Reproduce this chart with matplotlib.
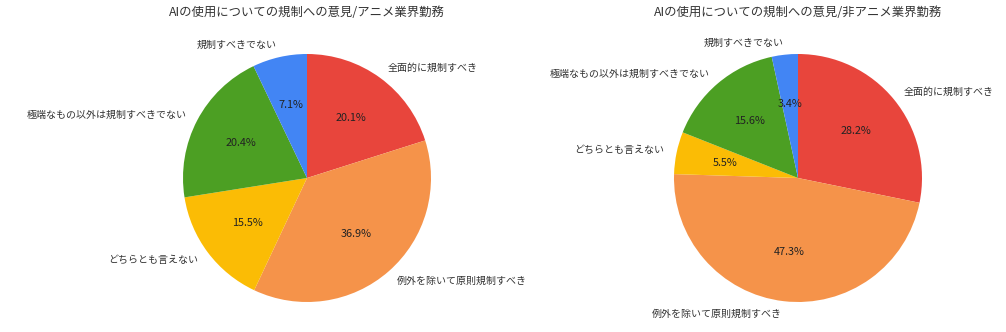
import matplotlib.pyplot as plt

plt.rcParams['font.family'] = ['Noto Sans CJK JP', 'DejaVu Sans']

labels_anime = ["全面的に規制すべき", "例外を除いて原則規制すべき", "どちらとも言えない",
                "極端なもの以外は規制すべきでない", "規制すべきでない"]
values_anime = [20.1, 36.9, 15.5, 20.4, 7.1]

labels_other = ["全面的に規制すべき", "例外を除いて原則規制すべき", "どちらとも言えない",
                "極端なもの以外は規制すべきでない", "規制すべきでない"]
values_other = [28.2, 47.3, 5.5, 15.6, 3.4]

titles = ["AIの使用についての規制への意見/アニメ業界勤務",
          "AIの使用についての規制への意見/非アニメ業界勤務"]
colors = ["#E8453C", "#F5934A", "#FBBC05", "#4C9F23", "#4285F4"]

W, H = 1006, 332
R = 124      # pie radius in px
half = 150   # axes half size in px

fig = plt.figure(figsize=(W / 100, H / 100), dpi=100)

for (cx, cy), labels, values, title in [((307, 178), labels_anime, values_anime, titles[0]),
                                         ((798, 178), labels_other, values_other, titles[1])]:
    ax = fig.add_axes([(cx - half) / W, (H - cy - half) / H, 2 * half / W, 2 * half / H])
    wedges, texts, autotexts = ax.pie(values, labels=labels, colors=colors, startangle=90,
                                      counterclock=False, autopct="%.1f%%", pctdistance=0.6,
                                      labeldistance=1.1,
                                      textprops={"fontsize": 7.2, "color": "#333333"})
    for t in autotexts:
        t.set_color("#222222")
        t.set_fontsize(7.8)
    ax.set_xlim(-half / R, half / R)
    ax.set_ylim(-half / R, half / R)
    ax.set_aspect("auto")
    fig.text(cx / W, 1 - 13 / H, title, ha="center", va="center", fontsize=8.9, color="#333333")

fig.savefig("out.png", dpi=100)
